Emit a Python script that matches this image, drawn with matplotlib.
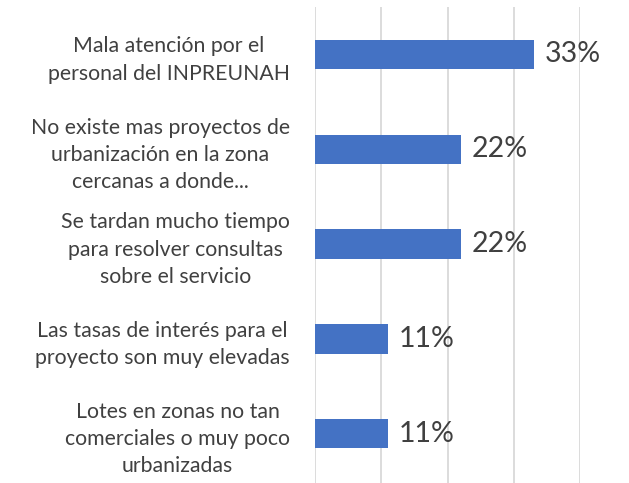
import numpy as np
import matplotlib.pyplot as plt

plt.rcParams['font.family'] = ['Lato', 'DejaVu Sans']

categorias = [
    "Mala atención por el\npersonal del INPREUNAH",
    "No existe mas proyectos de\nurbanización en la zona\ncercanas a donde...",
    "Se tardan mucho tiempo\npara resolver consultas\nsobre el servicio",
    "Las tasas de interés para el\nproyecto son muy elevadas",
    "Lotes en zonas no tan\ncomerciales o muy poco\nurbanizadas",
]
valores = [0.33, 0.22, 0.22, 0.11, 0.11]
etiquetas = ["33%", "22%", "22%", "11%", "11%"]

fig = plt.figure(figsize=(6.29, 4.83), dpi=100)
ax = fig.add_axes([315/629, 0, 265/629, 476/483])

y = np.arange(len(categorias))
ax.barh(y, valores, height=0.31, color='#4472C4', zorder=3)
for yi, v, t in zip(y, valores, etiquetas):
    ax.text(v + 0.017, yi, t, va='center', ha='left', fontsize=20.5, color='#404040')

ax.set_xlim(0, 0.4)
ax.set_ylim(len(categorias) - 0.5 + 0.02, -0.5)
ax.set_xticks([0, 0.1, 0.2, 0.3, 0.4])
ax.xaxis.grid(True, color='#D9D9D9', linewidth=1.3, zorder=0)
ax.tick_params(axis='x', length=0, labelbottom=False)
ax.set_yticks(y)
ax.set_yticklabels(categorias, fontsize=15.3, color='#404040', multialignment='center',
                   linespacing=1.45)
ax.tick_params(axis='y', length=0, pad=18)
for s in ['top', 'right', 'bottom', 'left']:
    ax.spines[s].set_visible(False)

fig.savefig('out.png', dpi=100)
